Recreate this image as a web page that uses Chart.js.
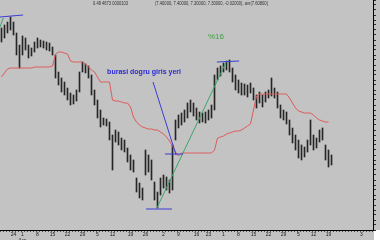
<!DOCTYPE html>
<html lang="tr">
<head>
  <meta charset="UTF-8">
  <title>Fiyat grafigi</title>
  <script src="https://cdn.jsdelivr.net/npm/chart.js"></script>
  <style>
    body { margin: 0; background: #fff; }
    #chart { display: block; }
  </style>
</head>
<body>
<canvas id="chart" width="380" height="240"></canvas>
<script>
  // gunluk en yuksek / en dusuk fiyatlar (bar sirasi ile)
  const highs = [8.62, 8.65, 8.68, 8.73, 8.68, 8.57, 8.45, 8.54, 8.52, 8.45,
    8.42, 8.48, 8.52, 8.50, 8.49, 8.48, 8.47, 8.43, 8.35, 8.18,
    8.12, 8.08, 8.02, 7.97, 7.95, 8.00, 8.18, 8.28, 8.26, 8.24,
    8.15, 8.00, 7.90, 7.80, 7.72, 7.71, 7.68, 7.55, 7.60, 7.58,
    7.52, 7.50, 7.42, 7.35, 7.30, 7.12, 7.07, 7.02, 7.40, 7.35,
    7.30, 7.08, 6.98, 7.12, 7.15, 7.13, 7.10, 7.45, 7.70, 7.75,
    7.77, 7.80, 7.87, 7.90, 7.87, 7.82, 7.78, 7.77, 7.78, 7.80,
    7.85, 8.15, 8.22, 8.24, 8.27, 8.28, 8.30, 8.22, 8.15, 8.10,
    8.07, 8.06, 8.05, 8.07, 8.02, 7.95, 7.98, 7.95, 7.98, 8.00,
    8.12, 8.02, 7.98, 7.85, 7.80, 7.78, 7.70, 7.62, 7.55, 7.50,
    7.45, 7.43, 7.50, 7.70, 7.55, 7.52, 7.60, 7.62, 7.45, 7.40,
    7.35];
  const lows = [8.48, 8.52, 8.57, 8.60, 8.55, 8.35, 8.22, 8.35, 8.40, 8.32,
    8.34, 8.38, 8.42, 8.43, 8.42, 8.40, 8.39, 8.35, 8.12, 8.05,
    7.98, 7.95, 7.90, 7.85, 7.86, 7.89, 7.98, 8.18, 8.17, 8.12,
    7.95, 7.85, 7.72, 7.63, 7.65, 7.64, 7.50, 7.20, 7.48, 7.45,
    7.40, 7.38, 7.28, 7.20, 7.18, 6.98, 6.92, 6.90, 7.15, 7.18,
    7.10, 6.90, 6.82, 6.95, 7.02, 7.00, 6.97, 7.00, 7.50, 7.62,
    7.65, 7.68, 7.72, 7.78, 7.74, 7.70, 7.67, 7.68, 7.67, 7.70,
    7.72, 7.80, 8.10, 8.14, 8.18, 8.20, 8.18, 8.08, 8.00, 7.97,
    7.95, 7.95, 7.93, 7.97, 7.90, 7.82, 7.87, 7.83, 7.88, 7.92,
    7.94, 7.92, 7.82, 7.72, 7.70, 7.66, 7.55, 7.47, 7.40, 7.32,
    7.30, 7.33, 7.38, 7.45, 7.40, 7.42, 7.48, 7.50, 7.30, 7.23,
    7.25];
  // iz suren stop cizgisi (kirmizi)
  const trail = [8.13, 8.17, 8.21, 8.22, 8.22, 8.22, 8.22, 8.22, 8.22, 8.22,
    8.22, 8.23, 8.23, 8.23, 8.23, 8.23, 8.23, 8.24, 8.36, 8.38,
    8.38, 8.37, 8.36, 8.29, 8.28, 8.28, 8.28, 8.28, 8.26, 8.23,
    8.20, 8.18, 8.13, 8.08, 8.08, 8.08, 8.08, 7.90, 7.89, 7.89,
    7.88, 7.87, 7.87, 7.83, 7.73, 7.68, 7.65, 7.63, 7.62, 7.61,
    7.61, 7.60, 7.60, 7.58, 7.56, 7.53, 7.49, 7.44, 7.38, 7.34,
    7.37, 7.37, 7.37, 7.37, 7.37, 7.37, 7.37, 7.37, 7.37, 7.37,
    7.37, 7.40, 7.52, 7.53, 7.54, 7.56, 7.57, 7.58, 7.59, 7.59,
    7.60, 7.62, 7.64, 7.66, 7.80, 7.94, 7.96, 7.96, 7.96, 7.96,
    7.96, 7.96, 7.96, 7.96, 7.96, 7.96, 7.92, 7.87, 7.82, 7.79,
    7.78, 7.77, 7.77, 7.77, 7.75, 7.72, 7.70, 7.69, 7.68, 7.68,
    null];

  // alt eksen etiketleri (bar sirasi -> etiket)
  const tickIdx = [4, 7, 12, 17, 22, 27, 32, 37, 43, 48, 54, 59, 65, 69, 74, 79, 84, 89, 94, 99, 104, 109, 120];
  const tickText = ["24", ["1", "Ara"], "8", "15", "22", "29", "5", "12", "19", "26", "2", "9",
    "16", "23", "1", "8", "15", "22", "29", "5", "12", "19", "3"];

  // elle cizilmis cizgiler: [x1, y1, x2, y2]
  const blueLines = [
    [-0.5, 8.73, 7.2, 8.75],
    [50.5, 8.08, 58.2, 7.35],
    [54.5, 7.36, 60.5, 7.36],
    [48.2, 6.81, 56.8, 6.81],
    [71.8, 8.28, 79.2, 8.29]
  ];
  const greenLines = [
    [-0.5, 8.63, 0.6, 8.72],
    [51.8, 6.82, 75.2, 8.30]
  ];
  const notes = [
    { text: "burasi dogru giris yeri", x: 35.2, y: 8.18, color: "#2a2ad0", font: "bold 7px 'Liberation Sans'" },
    { text: "%16", x: 68.8, y: 8.53, color: "#3c9e3c", font: "8px 'Liberation Sans'" }
  ];
  const headerLeft = "0.49 4673 0000103";
  const headerRight = "(7.40000, 7.40000, 7.30000, 7.30000, -0.02000), avr(7.60800)";

  const bars = highs.map((h, i) => ({ x: i, y: [lows[i], h] }));
  const trailPts = trail.map((v, i) => ({ x: i, y: v }));

  const lineSet = (seg, color) => ({
    type: 'line',
    data: [{ x: seg[0], y: seg[1] }, { x: seg[2], y: seg[3] }],
    borderColor: color,
    borderWidth: 1,
    pointRadius: 0,
    order: 0
  });

  const datasets = [
    {
      type: 'bar',
      data: bars,
      backgroundColor: '#262626',
      barThickness: 1,
      order: 2
    },
    {
      type: 'line',
      data: trailPts,
      borderColor: '#e05a5a',
      borderWidth: 1,
      pointRadius: 0,
      spanGaps: false,
      order: 1
    }
  ];
  blueLines.forEach(s => datasets.push(lineSet(s, '#3b3bd6')));
  greenLines.forEach(s => datasets.push(lineSet(s, '#3aa66a')));

  // arka plan ve yazilar
  const decor = {
    id: 'decor',
    beforeDraw(chart) {
      const { ctx, chartArea } = chart;
      ctx.save();
      ctx.fillStyle = '#c3c3c3';
      ctx.fillRect(0, 0, chart.width, chart.height);
      ctx.fillStyle = '#ffffff';
      ctx.fillRect(chartArea.right + 1, chartArea.bottom, chart.width, chart.height);
      ctx.restore();
    },
    afterDatasetsDraw(chart) {
      const { ctx, scales } = chart;
      ctx.save();
      ctx.textBaseline = 'middle';
      notes.forEach(n => {
        ctx.font = n.font;
        ctx.fillStyle = n.color;
        ctx.fillText(n.text, scales.x.getPixelForValue(n.x), scales.y.getPixelForValue(n.y));
      });
      ctx.font = "5px 'Liberation Sans'";
      ctx.fillStyle = '#303030';
      ctx.fillText(headerLeft, 93, 4, 35);
      ctx.fillText(headerRight, 155, 4, 113);
      ctx.restore();
    }
  };

  new Chart(document.getElementById('chart'), {
    type: 'bar',
    data: { datasets },
    plugins: [decor],
    options: {
      responsive: false,
      animation: false,
      devicePixelRatio: 1,
      layout: { padding: 0 },
      plugins: { legend: { display: false }, tooltip: { enabled: false } },
      scales: {
        x: {
          type: 'linear',
          min: -0.5,
          max: 123.83,
          offset: false,
          afterBuildTicks(scale) {
            const t = [];
            for (let i = 0; i <= 123; i++) t.push({ value: i });
            scale.ticks = t;
          },
          afterFit(scale) { scale.height = 10; },
          grid: { drawOnChartArea: false, tickLength: 2, color: '#505050' },
          border: { color: '#000', width: 1 },
          ticks: {
            autoSkip: false,
            maxRotation: 0,
            padding: 0,
            color: '#202020',
            font: { size: 5, family: "'Liberation Sans'" },
            callback(v) {
              const k = tickIdx.indexOf(v);
              return k < 0 ? '' : tickText[k];
            }
          }
        },
        y: {
          position: 'right',
          min: 6.60,
          max: 8.90,
          afterFit(scale) { scale.width = 7; },
          grid: { drawOnChartArea: false, tickLength: 3, color: '#303030' },
          border: { color: '#000', width: 1 },
          ticks: { display: false, stepSize: 0.05 }
        }
      }
    }
  });
</script>
</body>
</html>
